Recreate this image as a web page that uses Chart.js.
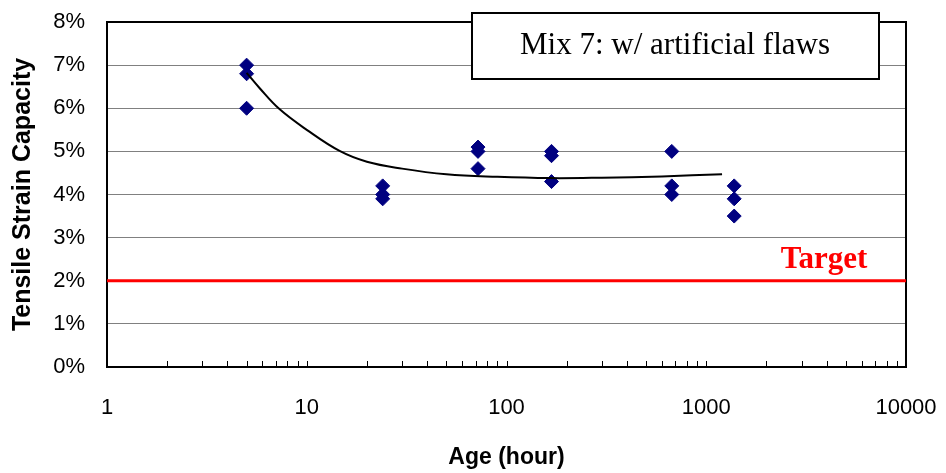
<!DOCTYPE html>
<html><head><meta charset="utf-8">
<script src="https://cdn.jsdelivr.net/npm/chart.js@4"></script>
<style>html,body{margin:0;padding:0;background:#fff;overflow:hidden;}</style>
</head><body><canvas id="c" width="946" height="473" style="width:946px;height:473px;display:block"></canvas>
<script>
// ---- data ----
const ages = [5, 24, 72, 168, 672, 1380];
const strainHigh = [7.0, 4.2, 5.1, 5.0, 5.0, 4.2];
const strainMid  = [6.8, 4.0, 5.0, 4.9, 4.2, 3.9];
const strainLow  = [6.0, 3.9, 4.6, 4.3, 4.0, 3.5];
const trendAges   = [5, 5.8, 7.3, 10, 14.6, 20, 30, 50, 90, 165, 300, 600, 1200];
const trendStrain = [6.82, 6.47, 5.98, 5.5, 5.01, 4.76, 4.6, 4.47, 4.41, 4.38, 4.39, 4.42, 4.47];
const targetStrain = 2;
const xTickValues = [1, 10, 100, 1000, 10000];
const yTickValues = [0, 1, 2, 3, 4, 5, 6, 7, 8];
const boxTitle = 'Mix 7: w/ artificial flaws';
const targetLabel = 'Target';
const xTitle = 'Age (hour)';
const yTitle = 'Tensile Strain Capacity';

// ---- build datasets ----
const scatterPts = [];
[strainHigh, strainMid, strainLow].forEach(arr => arr.forEach((v, i) => scatterPts.push({x: ages[i], y: v})));
const trendPts = trendAges.map((a, i) => ({x: a, y: trendStrain[i]}));
const targetPts = [{x: xTickValues[0], y: targetStrain}, {x: xTickValues[xTickValues.length - 1], y: targetStrain}];

Chart.defaults.font.family = '"Liberation Sans", Arial, sans-serif';
Chart.defaults.color = '#000';

const decor = {
  id: 'decor',
  beforeDatasetsDraw(chart) {
    const {ctx, chartArea: a, scales: {x}} = chart;
    ctx.save();
    ctx.strokeStyle = '#000';
    ctx.lineWidth = 1;
    ctx.beginPath();
    for (let d = 1; d < 10000; d *= 10) {
      for (let m = 1; m < 10; m++) {
        const px = Math.round(x.getPixelForValue(d * m)) + 0.5;
        ctx.moveTo(px, a.bottom);
        ctx.lineTo(px, a.bottom - 6);
      }
    }
    ctx.stroke();
    ctx.lineWidth = 2;
    ctx.strokeRect(a.left, a.top, a.right - a.left, a.bottom - a.top);
    ctx.restore();
  },
  afterDraw(chart) {
    const {ctx, scales: {x, y}} = chart;
    ctx.save();
    ctx.font = 'bold 31px "Liberation Serif", "Times New Roman", serif';
    ctx.fillStyle = '#ff0000';
    ctx.textAlign = 'center';
    ctx.textBaseline = 'alphabetic';
    ctx.fillText(targetLabel, x.getPixelForValue(3890), y.getPixelForValue(2.3));
    // annotation box
    ctx.fillStyle = '#fff';
    ctx.fillRect(472, 13, 407, 66);
    ctx.lineWidth = 2;
    ctx.strokeStyle = '#000';
    ctx.strokeRect(472, 13, 407, 66);
    ctx.fillStyle = '#000';
    ctx.font = '31px "Liberation Serif", "Times New Roman", serif';
    ctx.textBaseline = 'middle';
    ctx.fillText(boxTitle, 675, 46);
    ctx.restore();
  }
};

new Chart(document.getElementById('c'), {
  type: 'scatter',
  data: {
    datasets: [
      {
        data: trendPts, showLine: true, borderColor: '#000', borderWidth: 2,
        pointRadius: 0, tension: 0.4, order: 0
      },
      {
        data: scatterPts, pointStyle: 'rectRot', pointRadius: 7,
        backgroundColor: '#000080', borderColor: '#000080', borderWidth: 1, order: 1
      },
      {
        data: targetPts, showLine: true, borderColor: '#ff0000', borderWidth: 3,
        pointRadius: 0, order: 2
      }
    ]
  },
  options: {
    responsive: false, animation: false, devicePixelRatio: 1,
    layout: {padding: {top: 22, right: 40, left: 0, bottom: 0}},
    plugins: {legend: {display: false}, tooltip: {enabled: false}},
    scales: {
      x: {
        type: 'logarithmic', min: 1, max: 10000,
        afterBuildTicks: s => { s.ticks = xTickValues.map(v => ({value: v})); },
        afterFit: s => { s.height = 106; s.paddingLeft = 0; s.paddingRight = 0; },
        ticks: {
          callback: v => String(v), font: {size: 22}, color: '#000',
          maxRotation: 0, autoSkip: false, padding: 28
        },
        grid: {display: false, drawTicks: false},
        border: {display: true, color: '#000', width: 2},
        title: {display: true, text: xTitle, font: {size: 23, weight: 'bold'}, color: '#000', padding: {top: 0, bottom: 2}}
      },
      y: {
        min: 0, max: 8,
        afterBuildTicks: s => { s.ticks = yTickValues.map(v => ({value: v})); },
        afterFit: s => { s.width = 107; s.paddingTop = 0; s.paddingBottom = 0; },
        ticks: {callback: v => v + '%', font: {size: 22}, color: '#000', padding: 22},
        grid: {color: '#808080', lineWidth: 1, drawTicks: false},
        border: {display: true, color: '#000', width: 2},
        title: {display: true, text: yTitle, font: {size: 25, weight: 'bold'}, color: '#000', padding: {top: 8, bottom: 0}}
      }
    }
  },
  plugins: [decor]
});
</script>
</body></html>
